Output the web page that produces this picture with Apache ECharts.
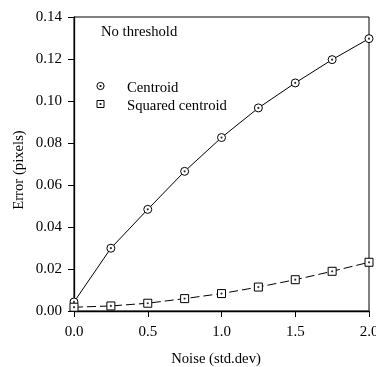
<!DOCTYPE html>
<html>
<head>
<meta charset="utf-8">
<script src="https://cdn.jsdelivr.net/npm/echarts@6/dist/echarts.min.js"></script>
<style>
  html, body { margin: 0; padding: 0; background: #fff; }
  #chart { width: 376px; height: 367px; }
</style>
</head>
<body>
<div id="chart"></div>
<script>
// Noise levels (std.dev) along the x axis
const noise = [0, 0.25, 0.5, 0.75, 1.0, 1.25, 1.5, 1.75, 2.0];
// Localisation error in pixels for each estimator
const centroidError = [0.0043, 0.0299, 0.0484, 0.0665, 0.0826, 0.0967, 0.1086, 0.1197, 0.1297];
const squaredCentroidError = [0.0018, 0.0024, 0.0037, 0.0059, 0.0083, 0.0114, 0.0149, 0.0189, 0.0232];

const FONT = '"Liberation Serif", "DejaVu Serif", serif';
const TXT = '14.7px ' + FONT;
const pairs = (ys) => noise.map((x, i) => [x, ys[i]]);

const chart = echarts.init(document.getElementById('chart'), null, { renderer: 'canvas' });

// small dot drawn in the middle of each marker
function centreDots(ys) {
  return {
    type: 'scatter',
    data: pairs(ys),
    symbol: 'circle',
    symbolSize: 2.2,
    itemStyle: { color: '#000' },
    silent: true,
    z: 5
  };
}

chart.setOption({
  animation: false,
  grid: {
    left: 74, right: 7, top: 17, bottom: 56,
    containLabel: false, outerBoundsMode: 'none',
    show: true, borderColor: '#000', borderWidth: 1, backgroundColor: 'transparent'
  },
  xAxis: {
    type: 'value', min: 0, max: 2, interval: 0.5,
    axisLine: { lineStyle: { color: '#000', width: 1.3 } },
    axisTick: { show: true, inside: false, length: 6, lineStyle: { color: '#000' } },
    axisLabel: { fontFamily: FONT, fontSize: 15, color: '#000', margin: 14,
                 formatter: v => v.toFixed(1) },
    splitLine: { show: false }
  },
  yAxis: {
    type: 'value', min: 0, max: 0.14, interval: 0.02,
    axisLine: { lineStyle: { color: '#000', width: 1.3 } },
    axisTick: { show: true, inside: false, length: 6, lineStyle: { color: '#000' } },
    axisLabel: { fontFamily: FONT, fontSize: 15, color: '#000', margin: 12,
                 formatter: v => v.toFixed(2) },
    splitLine: { show: false }
  },
  graphic: [
    // axis titles
    { type: 'text', x: 216, y: 359,
      style: { text: 'Noise (std.dev)', font: TXT, fill: '#000', align: 'center', verticalAlign: 'middle' } },
    { type: 'text', x: 19, y: 170, rotation: Math.PI / 2,
      style: { text: 'Error (pixels)', font: TXT, fill: '#000', align: 'center', verticalAlign: 'middle' } },
    { type: 'text', x: 101, y: 32,
      style: { text: 'No threshold', font: TXT, fill: '#000', verticalAlign: 'middle' } },
    // legend entries
    { type: 'circle', shape: { cx: 100.5, cy: 86, r: 3.6 },
      style: { fill: '#fff', stroke: '#000', lineWidth: 1 } },
    { type: 'circle', shape: { cx: 100.5, cy: 86, r: 1.1 }, style: { fill: '#000' } },
    { type: 'text', x: 127, y: 88,
      style: { text: 'Centroid', font: TXT, fill: '#000', verticalAlign: 'middle' } },
    { type: 'rect', shape: { x: 97, y: 100.5, width: 7, height: 7 },
      style: { fill: '#fff', stroke: '#000', lineWidth: 1 } },
    { type: 'circle', shape: { cx: 100.5, cy: 104, r: 1.1 }, style: { fill: '#000' } },
    { type: 'text', x: 127, y: 106,
      style: { text: 'Squared centroid', font: TXT, fill: '#000', verticalAlign: 'middle' } }
  ],
  series: [
    {
      name: 'Centroid', type: 'line', data: pairs(centroidError),
      symbol: 'circle', symbolSize: 8, showAllSymbol: true,
      lineStyle: { color: '#000', width: 1 },
      itemStyle: { color: '#fff', borderColor: '#000', borderWidth: 1 },
      z: 3
    },
    centreDots(centroidError),
    {
      name: 'Squared centroid', type: 'line', data: pairs(squaredCentroidError),
      symbol: 'rect', symbolSize: 8, showAllSymbol: true,
      lineStyle: { color: '#000', width: 1, type: [9, 4] },
      itemStyle: { color: '#fff', borderColor: '#000', borderWidth: 1 },
      z: 3
    },
    centreDots(squaredCentroidError)
  ]
});
</script>
</body>
</html>
